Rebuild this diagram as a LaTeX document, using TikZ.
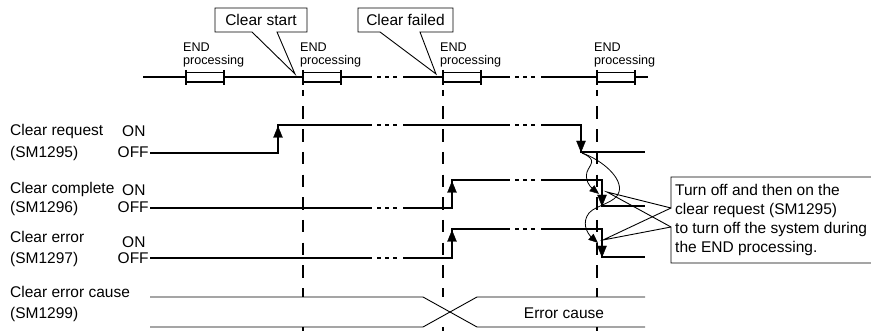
\documentclass[tikz,border=0pt]{standalone}
\usepackage{fontspec}
\setmainfont{Liberation Sans}
\begin{document}
\begin{tikzpicture}[x=1pt,y=-1pt,
  sig/.style={line width=1.6pt},
  thinl/.style={line width=0.9pt},
  dotsty/.style={line width=1.6pt, dash pattern=on 4pt off 4pt},
  vdash/.style={line width=2.4pt, dash pattern=on 12.5pt off 10.2pt, dash phase=6.2pt},
  boxl/.style={line width=1.1pt, fill=white},
  tick/.style={line width=2pt},
  lbl/.style={font=\fontsize{15.5}{19}\selectfont, inner sep=0pt, anchor=base west},
  lblc/.style={font=\fontsize{15.5}{19}\selectfont, inner sep=0pt, anchor=base},
  small/.style={font=\fontsize{12.6}{15}\selectfont, inner sep=0pt, anchor=base west},
  curv/.style={line width=0.8pt},
  call/.style={line width=0.9pt, fill=white},
  head/.style={fill=black, draw=black, line width=0.4pt, line join=miter}
]
\useasboundingbox (0,0) rectangle (871,331);
\begin{scope}
\clip (0,0) rectangle (871,331);

% ---------- top timeline ----------
\draw[sig] (143,77) -- (186,77) (224,77) -- (303,77) (341,77) -- (372,77);
\draw[dotsty] (377,77) -- (397,77);
\draw[sig] (403,77) -- (443,77) (481,77) -- (510,77);
\draw[dotsty] (515,77) -- (535,77);
\draw[sig] (541,77) -- (597,77) (635,77) -- (648,77);
\foreach \a in {186,303,443,597}{
  \draw[boxl] (\a,72.5) rectangle ({\a+38},82);
  \draw[tick] (\a,70) -- (\a,85) ({\a+38},70) -- ({\a+38},85);
  \node[small] at ({\a-3},51.5) {END};
  \node[small] at ({\a-3},64.5) {processing};
}

% ---------- labels ----------
\node[lbl] (lreq) at (10,135.5) {Clear request};
\node[lbl] (lreqn) at (10,157.5) {(SM1295)};
\node[lbl] (lcmp) at (10,193.5) {Clear complete};
\node[lbl] (lcmpn) at (10,213) {(SM1296)};
\node[lbl] (lerr) at (10,242.5) {Clear error};
\node[lbl] (lerrn) at (10,263.5) {(SM1297)};
\node[lbl] (lcau) at (10,297.5) {Clear error cause};
\node[lbl] (lcaun) at (10,318.5) {(SM1299)};

\node[lbl] (on1) at (122,137) {ON};
\node[lbl] (off1) at (117.5,157.5) {OFF};
\node[lbl] (on2) at (122,196) {ON};
\node[lbl] (off2) at (117.5,213) {OFF};
\node[lbl] (on3) at (122,247.5) {ON};
\node[lbl] (off3) at (117.5,263.5) {OFF};

% ---------- Clear request ----------
\draw[sig] (150,153) -- (278,153) -- (278,125) -- (372,125);
\draw[dotsty] (377,125) -- (397,125);
\draw[sig] (403,125) -- (510,125);
\draw[dotsty] (515,125) -- (535,125);
\draw[sig] (541,125) -- (581,125) -- (581,152) -- (645,152);
\fill[head] (273.5,137.5) -- (282.5,137.5) -- (278,126.5) -- cycle;
\fill[head] (576.5,141) -- (585.5,141) -- (581,152) -- cycle;

% ---------- Clear complete ----------
\draw[sig] (150,208) -- (372,208);
\draw[dotsty] (377,208) -- (397,208);
\draw[sig] (403,208) -- (452,208) -- (452,180) -- (510,180);
\draw[dotsty] (515,180) -- (535,180);
\draw[sig] (541,180) -- (602,180) -- (602,206) -- (645,206);
\fill[head] (447.5,192.5) -- (456.5,192.5) -- (452,181.5) -- cycle;
\fill[head] (597.5,195) -- (606.5,195) -- (602,206) -- cycle;

% ---------- Clear error ----------
\draw[sig] (150,258) -- (372,258);
\draw[dotsty] (377,258) -- (397,258);
\draw[sig] (403,258) -- (452,258) -- (452,229) -- (510,229);
\draw[dotsty] (515,229) -- (535,229);
\draw[sig] (541,229) -- (602,229) -- (602,257) -- (645,257);
\fill[head] (447.5,241.5) -- (456.5,241.5) -- (452,230.5) -- cycle;
\fill[head] (597.5,246) -- (606.5,246) -- (602,257) -- cycle;

% ---------- Clear error cause ----------
\draw[thinl] (150,297) -- (423,297) -- (477,327) -- (645,327);
\draw[thinl] (150,327) -- (423,327) -- (477,297) -- (645,297);
\node[lblc] (ecause) at (564,318.5) {Error cause};

% ---------- dashed verticals (broken in the error-cause band) ----------
\foreach \a in {303,443,597}{
  \draw[vdash] (\a,90) -- (\a,297);
  \draw[line width=2.4pt] (\a,327) -- (\a,331);
}

% ---------- curved arrows ----------
\draw[curv] (582,153) .. controls (598,160) and (590,164) .. (587,172)
  .. controls (585,180) and (589,186) .. (593,189);
\fill[head] (589.6,191.0) -- (594.3,185.6) -- (598.5,193.5) -- cycle;
\draw[curv] (582,153) .. controls (602,160) and (623,178) .. (619,192)
  .. controls (616,203) and (596,205) .. (589,213)
  .. controls (582,222) and (586,232) .. (592,238);
\fill[head] (588.6,239.6) -- (593.4,234.2) -- (597.5,242.5) -- cycle;

% ---------- callouts ----------
\draw[call] (252,32) -- (215,32) -- (215,8) -- (307,8) -- (307,32) -- (277,32) -- (295,74) -- cycle;
\node[lblc] (cstart) at (261,25.5) {Clear start};
\draw[call] (380,32) -- (358,32) -- (358,8) -- (453,8) -- (453,32) -- (420,32) -- (436,74) -- cycle;
\node[lblc] (cfail) at (405.5,25.5) {Clear failed};

\draw[line width=0.9pt] (885,177) -- (671,177) -- (671,208) -- (607,192) -- (671,227) -- (671,263) -- (885,263);
\draw[line width=0.9pt] (671,208) -- (603,240) -- (671,227);
\node[lbl] at (675,195.5) {Turn off and then on the};
\node[lbl] at (675,214.5) {clear request (SM1295)};
\node[lbl] at (675,233.5) {to turn off the system during};
\node[lbl] at (675,252.5) {the END processing.};
\end{scope}
\end{tikzpicture}
\end{document}
